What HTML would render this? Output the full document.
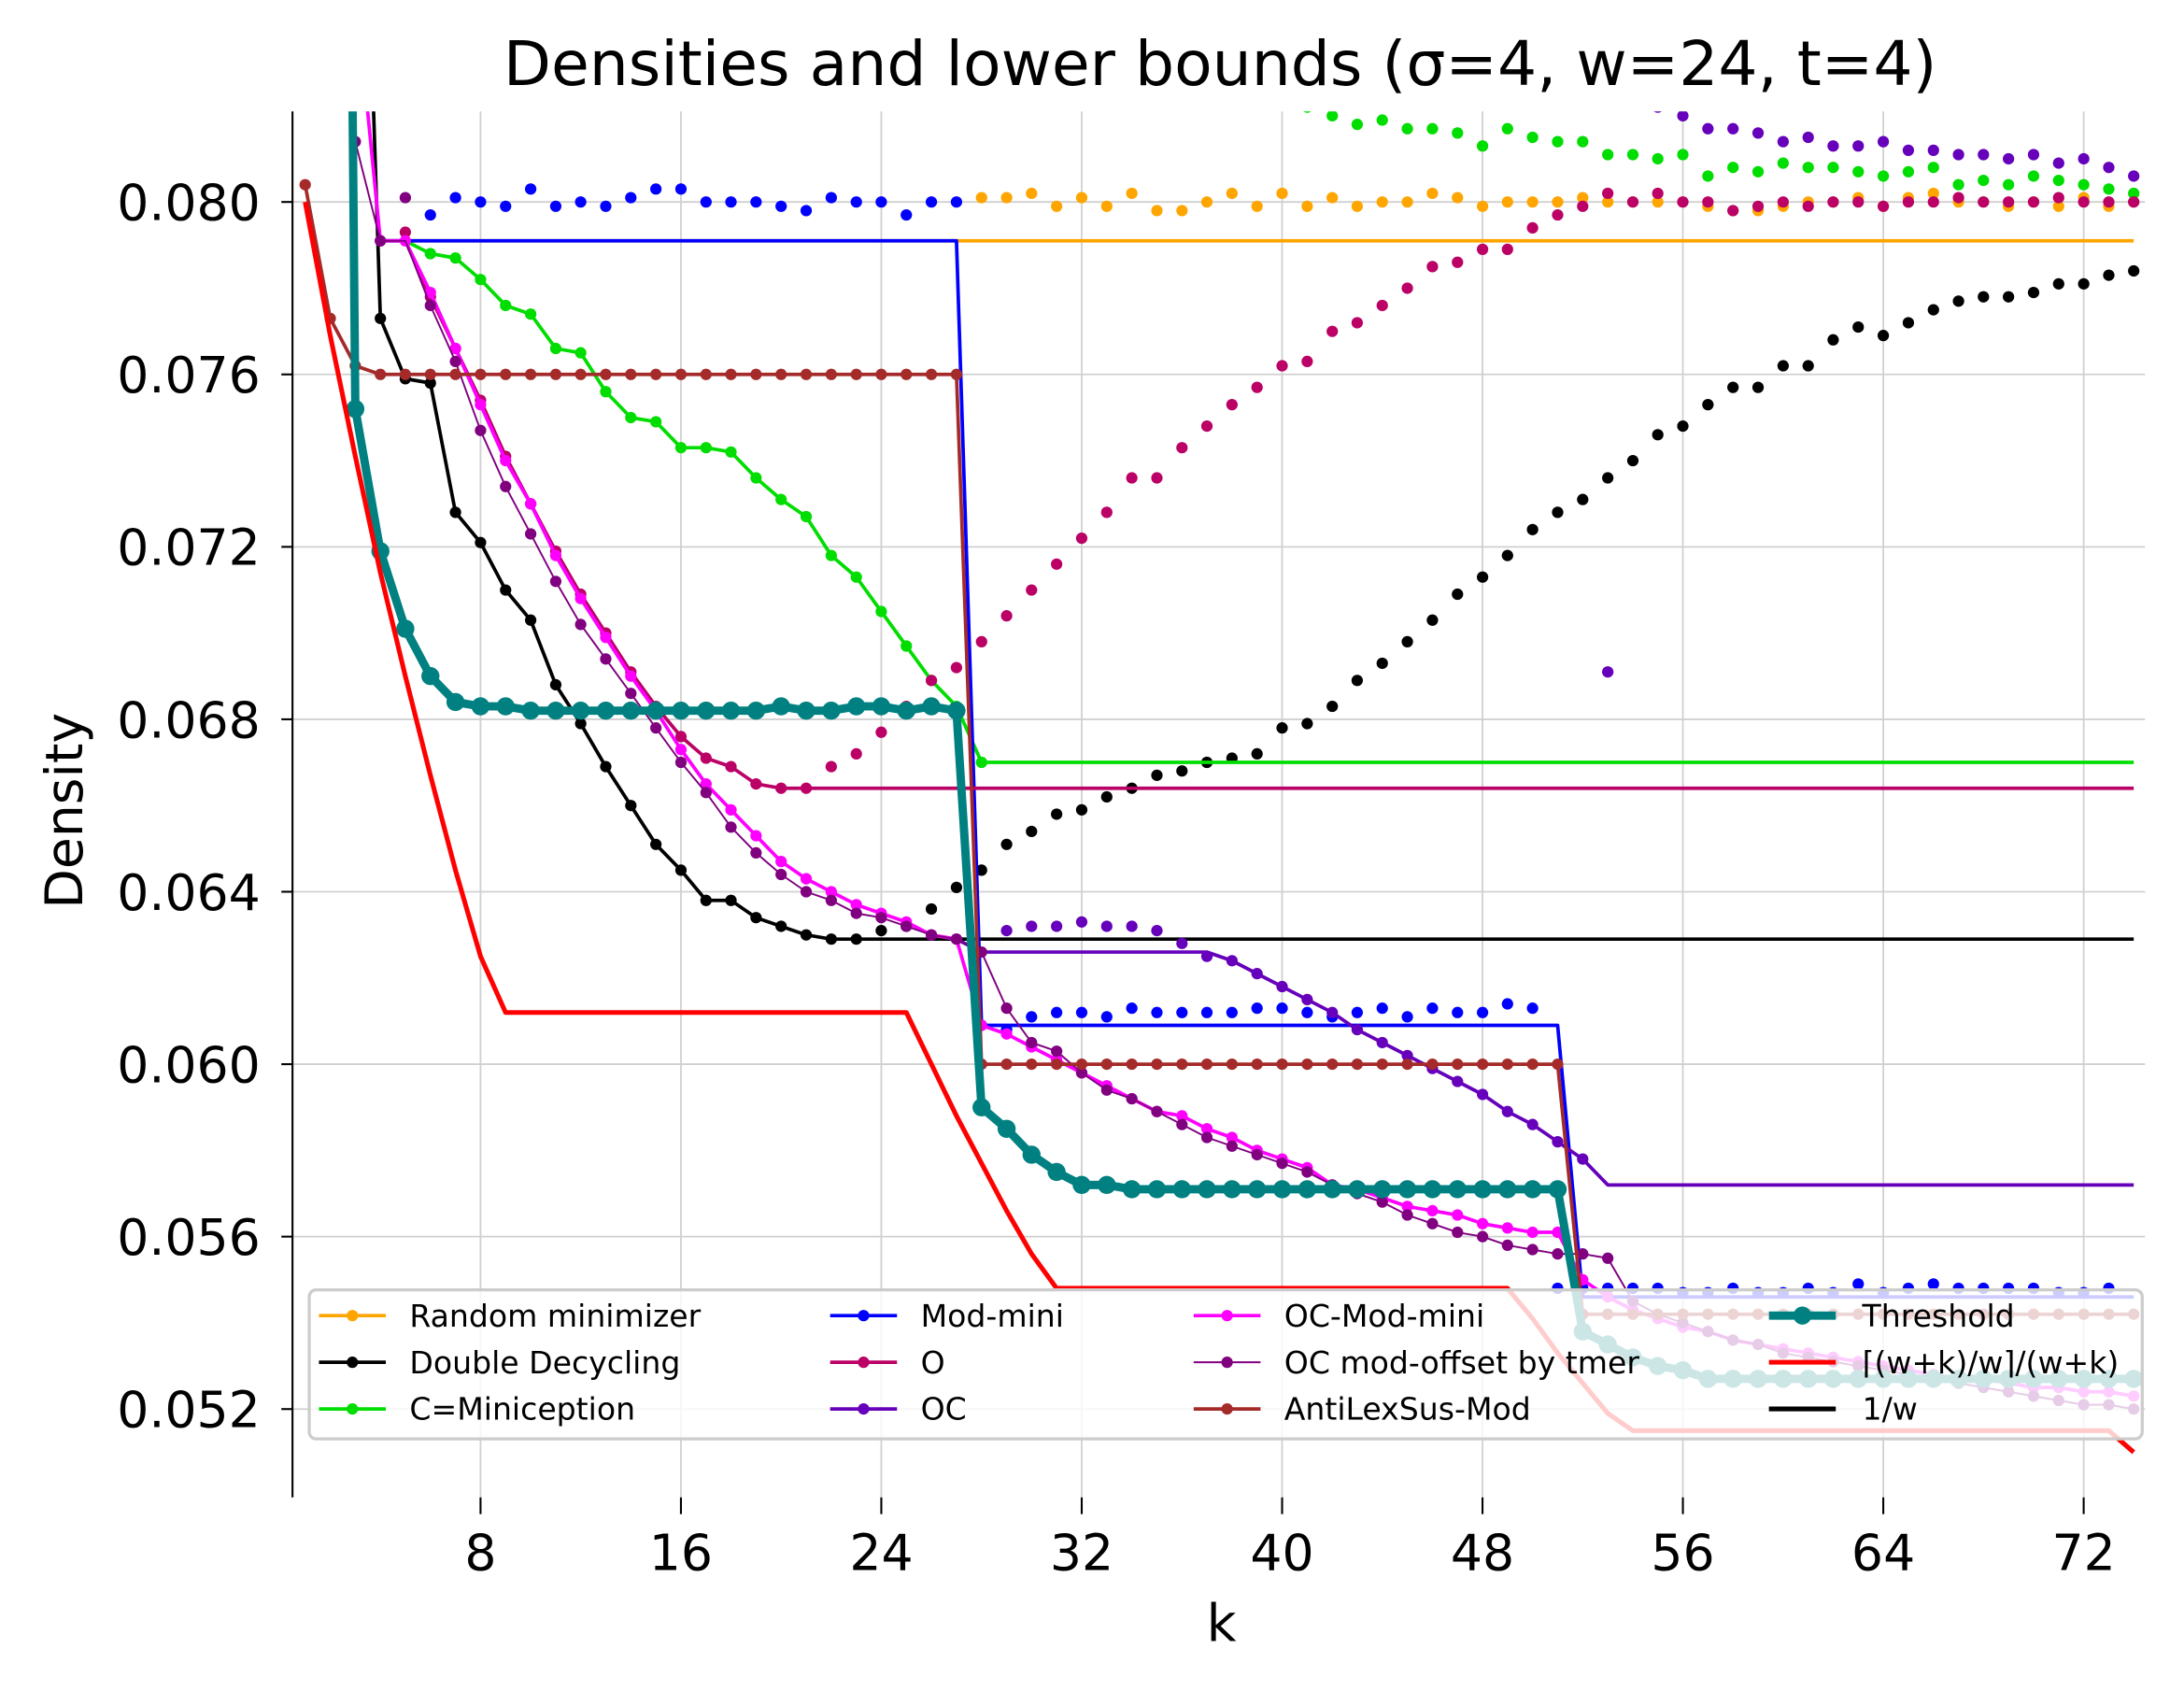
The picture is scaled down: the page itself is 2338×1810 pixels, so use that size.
<!DOCTYPE html>
<html><head><meta charset="utf-8"><style>
html,body{margin:0;padding:0;background:#fff;}
svg{display:block;}
text{font-family:"DejaVu Sans","Liberation Sans",sans-serif;}
</style></head><body>
<svg id="chart" width="2338" height="1810" viewBox="0 0 1568 1214" preserveAspectRatio="none" xmlns="http://www.w3.org/2000/svg">
<defs><clipPath id="plotclip"><rect x="210" y="80" width="1330" height="995"/></clipPath></defs>
<rect x="0" y="0" width="1568" height="1214" fill="#fff"/>
<g id="grid"></g>
<g id="series" clip-path="url(#plotclip)"></g>
<g id="legend"></g>
<g id="axes"></g>
<text x="876" y="61" font-size="44.5" text-anchor="middle">Densities and lower bounds (σ=4, w=24, t=4)</text>
<text x="877" y="1178" font-size="37" text-anchor="middle">k</text>
<text x="0" y="0" font-size="37" text-anchor="middle" transform="translate(59,582) rotate(-90)">Density</text>
</svg>
<script>
const xTicks = [8,16,24,32,40,48,56,64,72];
const yTicks = [0.052,0.056,0.060,0.064,0.068,0.072,0.076,0.080];
const yTickLabels = ["0.052","0.056","0.060","0.064","0.068","0.072","0.076","0.080"];

const randLineK = [5,74];
const randLineV = [0.0791,0.0791];
const randDotStart = 28;
const randDots = [0.0801,0.0801,0.0802,0.0799,0.0801,0.0799,0.0802,0.0798,0.0798,0.0800,0.0802,0.0799,0.0802,0.0799,0.0801,0.0799,0.0800,0.0800,0.0802,0.0801,0.0799,0.0800,0.0800,0.0800,0.0801,0.0800,0.0800,0.0800,0.0800,0.0799,0.0798,0.0798,0.0799,0.0800,0.0800,0.0801,0.0799,0.0801,0.0802,0.0800,0.0800,0.0799,0.0800,0.0799,0.0801,0.0799,0.0800];

const ddLineK = [3,4,5,6,7,8,9,10,11,12,13,14,15,16,17,18,19,20,21,22,74];
const ddLineV = [0.095,0.0773,0.0759,0.0758,0.0728,0.0721,0.0710,0.0703,0.0688,0.0679,0.0669,0.0660,0.0651,0.0645,0.0638,0.0638,0.0634,0.0632,0.0630,0.0629,0.0629];
const ddDotStart = 4;
const ddDots = [0.0773,0.0759,0.0758,0.0728,0.0721,0.0710,0.0703,0.0688,0.0679,0.0669,0.0660,0.0651,0.0645,0.0638,0.0638,0.0634,0.0632,0.0630,0.0629,0.0629,0.0631,0.0632,0.0636,0.0641,0.0645,0.0651,0.0654,0.0658,0.0659,0.0662,0.0664,0.0667,0.0668,0.0670,0.0671,0.0672,0.0678,0.0679,0.0683,0.0689,0.0693,0.0698,0.0703,0.0709,0.0713,0.0718,0.0724,0.0728,0.0731,0.0736,0.0740,0.0746,0.0748,0.0753,0.0757,0.0757,0.0762,0.0762,0.0768,0.0771,0.0769,0.0772,0.0775,0.0777,0.0778,0.0778,0.0779,0.0781,0.0781,0.0783,0.0784];

const minicLineK = [4,5,6,7,8,9,10,11,12,13,14,15,16,17,18,19,20,21,22,23,24,25,26,27,28,74];
const minicLineV = [0.0791,0.0791,0.0788,0.0787,0.0782,0.0776,0.0774,0.0766,0.0765,0.0756,0.0750,0.0749,0.0743,0.0743,0.0742,0.0736,0.0731,0.0727,0.0718,0.0713,0.0705,0.0697,0.0689,0.0683,0.0670,0.0670];
const minicDotStart = 6;
const minicDots = [0.0788,0.0787,0.0782,0.0776,0.0774,0.0766,0.0765,0.0756,0.0750,0.0749,0.0743,0.0743,0.0742,0.0736,0.0731,0.0727,0.0718,0.0713,0.0705,0.0697,0.0689,0.0683,0.0670,0.0830,0.0835,0.0838,0.0840,0.0838,0.0836,0.0834,0.0832,0.0830,0.0828,0.0826,0.0824,0.0822,0.0820,0.0818,0.0819,0.0817,0.0817,0.0816,0.0813,0.0817,0.0815,0.0814,0.0814,0.0811,0.0811,0.0810,0.0811,0.0806,0.0808,0.0807,0.0809,0.0808,0.0808,0.0807,0.0806,0.0807,0.0808,0.0804,0.0805,0.0804,0.0806,0.0805,0.0804,0.0803,0.0802];

const modLineK = [4,27,28,51,52,74];
const modLineV = [0.0791,0.0791,0.0609,0.0609,0.0546,0.0546];
const modDotStart = 6;
const modDots = [0.0797,0.0801,0.0800,0.0799,0.0803,0.0799,0.0800,0.0799,0.0801,0.0803,0.0803,0.0800,0.0800,0.0800,0.0799,0.0798,0.0801,0.0800,0.0800,0.0797,0.0800,0.0800,0.0609,0.0608,0.0611,0.0612,0.0612,0.0611,0.0613,0.0612,0.0612,0.0612,0.0612,0.0613,0.0613,0.0612,0.0611,0.0612,0.0613,0.0611,0.0613,0.0612,0.0612,0.0614,0.0613,0.0548,0.0548,0.0548,0.0548,0.0548,0.0547,0.0547,0.0548,0.0547,0.0547,0.0548,0.0547,0.0549,0.0547,0.0548,0.0549,0.0548,0.0548,0.0548,0.0548,0.0547,0.0547,0.0548];

const oLineK = [4,5,6,7,8,9,10,11,12,13,14,15,16,17,18,19,20,21,74];
const oLineV = [0.0791,0.0791,0.0778,0.0766,0.0754,0.0741,0.0730,0.0719,0.0709,0.0700,0.0691,0.0683,0.0676,0.0671,0.0669,0.0665,0.0664,0.0664,0.0664];
const oDotStart = 5;
const oDots = [0.0793,0.0778,0.0766,0.0754,0.0741,0.0730,0.0719,0.0709,0.0700,0.0691,0.0683,0.0676,0.0671,0.0669,0.0665,0.0664,0.0664,0.0669,0.0672,0.0677,0.0683,0.0689,0.0692,0.0698,0.0704,0.0710,0.0716,0.0722,0.0728,0.0736,0.0736,0.0743,0.0748,0.0753,0.0757,0.0762,0.0763,0.0770,0.0772,0.0776,0.0780,0.0785,0.0786,0.0789,0.0789,0.0794,0.0797,0.0799,0.0802,0.0800,0.0802,0.0800,0.0800,0.0798,0.0799,0.0800,0.0799,0.0800,0.0800,0.0799,0.0800,0.0800,0.0801,0.0800,0.0800,0.0800,0.0801,0.0800,0.0800,0.0800];

const ocLineK = [27,28,37,38,39,40,41,42,43,44,45,46,47,48,49,50,51,52,53,74];
const ocLineV = [0.0629,0.0626,0.0626,0.0624,0.0621,0.0618,0.0615,0.0612,0.0608,0.0605,0.0602,0.0599,0.0596,0.0593,0.0589,0.0586,0.0582,0.0578,0.0572,0.0572];
const ocDotStart = 29;
const ocDots = [0.0631,0.0632,0.0632,0.0633,0.0632,0.0632,0.0631,0.0628,0.0625,0.0624,0.0621,0.0618,0.0615,0.0612,0.0608,0.0605,0.0602,0.0599,0.0596,0.0593,0.0589,0.0586,0.0582,0.0578,0.0691,0.0830,0.0822,0.0820,0.0817,0.0817,0.0816,0.0814,0.0815,0.0813,0.0813,0.0814,0.0812,0.0812,0.0811,0.0811,0.0810,0.0811,0.0809,0.0810,0.0808,0.0806];

const ocmStart = 3;
const ocmValues = [0.0850,0.0791,0.0791,0.0779,0.0766,0.0753,0.0740,0.0730,0.0718,0.0708,0.0699,0.0690,0.0682,0.0673,0.0665,0.0659,0.0653,0.0647,0.0643,0.0640,0.0637,0.0635,0.0633,0.0630,0.0629,0.0609,0.0607,0.0604,0.0601,0.0598,0.0595,0.0592,0.0589,0.0588,0.0585,0.0583,0.0580,0.0578,0.0576,0.0572,0.0571,0.0569,0.0567,0.0566,0.0565,0.0563,0.0562,0.0561,0.0561,0.0550,0.0546,0.0543,0.0541,0.0539,0.0538,0.0536,0.0535,0.0534,0.0533,0.0532,0.0531,0.0530,0.0529,0.0528,0.0527,0.0527,0.0526,0.0525,0.0525,0.0524,0.0524,0.0523];

const offStart = 3;
const offLine = [0.0814,0.0791,0.0791,0.0776,0.0763,0.0747,0.0734,0.0723,0.0712,0.0702,0.0694,0.0686,0.0678,0.0670,0.0663,0.0655,0.0649,0.0644,0.0640,0.0638,0.0635,0.0634,0.0632,0.0630,0.0629,0.0626,0.0613,0.0605,0.0603,0.0598,0.0594,0.0592,0.0589,0.0586,0.0583,0.0581,0.0579,0.0577,0.0575,0.0572,0.0570,0.0568,0.0565,0.0563,0.0561,0.0560,0.0558,0.0557,0.0556,0.0556,0.0555,0.0545,0.0542,0.0540,0.0538,0.0536,0.0535,0.0533,0.0532,0.0531,0.0530,0.0529,0.0528,0.0527,0.0526,0.0525,0.0524,0.0523,0.0522,0.0521,0.0521,0.0520];
const offDots = [0.0814,0.0791,0.0801,0.0776,0.0763,0.0747,0.0734,0.0723,0.0712,0.0702,0.0694,0.0686,0.0678,0.0670,0.0663,0.0655,0.0649,0.0644,0.0640,0.0638,0.0635,0.0634,0.0632,0.0630,0.0629,0.0626,0.0613,0.0605,0.0603,0.0598,0.0594,0.0592,0.0589,0.0586,0.0583,0.0581,0.0579,0.0577,0.0575,0.0572,0.0570,0.0568,0.0565,0.0563,0.0561,0.0560,0.0558,0.0557,0.0556,0.0556,0.0555,0.0545,0.0542,0.0540,0.0538,0.0536,0.0535,0.0533,0.0532,0.0531,0.0530,0.0529,0.0528,0.0527,0.0526,0.0525,0.0524,0.0523,0.0522,0.0521,0.0521,0.0520];

const alsLineK = [1,2,3,4,27,28,51,52,74];
const alsLineV = [0.0804,0.0773,0.0762,0.0760,0.0760,0.0600,0.0600,0.0542,0.0542];
const alsDotStart = 1;
const alsDots = [0.0804,0.0773,0.0762,0.0760,0.0760,0.0760,0.0760,0.0760,0.0760,0.0760,0.0760,0.0760,0.0760,0.0760,0.0760,0.0760,0.0760,0.0760,0.0760,0.0760,0.0760,0.0760,0.0760,0.0760,0.0760,0.0760,0.0760,0.0600,0.0600,0.0600,0.0600,0.0600,0.0600,0.0600,0.0600,0.0600,0.0600,0.0600,0.0600,0.0600,0.0600,0.0600,0.0600,0.0600,0.0600,0.0600,0.0600,0.0600,0.0600,0.0600,0.0600,0.0542,0.0542,0.0542,0.0542,0.0542,0.0542,0.0542,0.0542,0.0542,0.0542,0.0542,0.0542,0.0542,0.0542,0.0542,0.0542,0.0542,0.0542,0.0542,0.0542,0.0542,0.0542,0.0542];

const thrStart = 2;
const thrValues = [0.140,0.0752,0.0719,0.0701,0.0690,0.0684,0.0683,0.0683,0.0682,0.0682,0.0682,0.0682,0.0682,0.0682,0.0682,0.0682,0.0682,0.0682,0.0683,0.0682,0.0682,0.0683,0.0683,0.0682,0.0683,0.0682,0.0590,0.0585,0.0579,0.0575,0.0572,0.0572,0.0571,0.0571,0.0571,0.0571,0.0571,0.0571,0.0571,0.0571,0.0571,0.0571,0.0571,0.0571,0.0571,0.0571,0.0571,0.0571,0.0571,0.0571,0.0538,0.0535,0.0532,0.0530,0.0529,0.0527,0.0527,0.0527,0.0527,0.0527,0.0527,0.0527,0.0527,0.0527,0.0527,0.0527,0.0527,0.0527,0.0527,0.0527,0.0527,0.0527,0.0527];

const lbK = [1,2,3,4,5,6,7,8,9,25,26,27,28,29,30,31,49,50,51,52,53,54,73,74];
const lbV = [0.0800,0.0769,0.0741,0.0714,0.0690,0.0667,0.0645,0.0625,0.0612,0.0612,0.0600,0.0588,0.0577,0.0566,0.0556,0.0548,0.0548,0.0541,0.0533,0.0526,0.0519,0.0515,0.0515,0.0510];

const legendLabels = ["Random minimizer","Double Decycling","C=Miniception","Mod-mini","O","OC","OC-Mod-mini","OC mod-offset by tmer","AntiLexSus-Mod","Threshold","⌈(w+k)/w⌉/(w+k)","1/w"];
const legendColors = ["#ffa500","#000000","#00dd00","#0000ff","#bb0066","#6600bb","#ff00ff","#800080","#a52a2a","#008080","#ff0000","#000000"];

const NS = "http://www.w3.org/2000/svg";
function X(k){ return 345 + (k - 8) * 17.984; }
function Y(v){ return 145 + (0.080 - v) * 30950; }
function mk(tag, attrs, parent){
  const e = document.createElementNS(NS, tag);
  for (const a in attrs) e.setAttribute(a, attrs[a]);
  parent.appendChild(e);
  return e;
}
const grid = document.getElementById('grid');
const axes = document.getElementById('axes');
const series = document.getElementById('series');
const legend = document.getElementById('legend');

xTicks.forEach(function(t){
  const g = mk('line', {x1:X(t), x2:X(t), y1:80, y2:1075, stroke:'#d0d0d0', 'stroke-width':1.2}, grid);
  
  
  const tk = mk('line', {x1:X(t), x2:X(t), y1:1075, y2:1087, stroke:'#000', 'stroke-width':1.4}, axes);
  
  
  const tl = mk('text', {x:X(t), y:1127, 'font-size':36, 'text-anchor':'middle'}, axes);
  tl.textContent = String(t);
  
  
});
yTicks.forEach(function(t, i){
  const g = mk('line', {x1:210, x2:1540, y1:Y(t), y2:Y(t), stroke:'#d0d0d0', 'stroke-width':1.2}, grid);
  
  
  const tk = mk('line', {x1:202, x2:210, y1:Y(t), y2:Y(t), stroke:'#000', 'stroke-width':1.4}, axes);
  
  
  const tl = mk('text', {x:187, y:Y(t) + 13, 'font-size':36, 'text-anchor':'end'}, axes);
  tl.textContent = yTickLabels[i];
  
  
});
const spine = mk('line', {x1:210, x2:210, y1:80, y2:1075, stroke:'#000', 'stroke-width':1.4}, axes);



function drawLine(ks, vs, color, width, name){
  const pts = ks.map(function(k, i){ return X(k).toFixed(1) + ',' + Y(vs[i]).toFixed(1); }).join(' ');
  const p = mk('polyline', {points:pts, fill:'none', stroke:color, 'stroke-width':width, 'stroke-linejoin':'round'}, series);
  
  
}
function seqK(start, n){ const a = []; for (let i = 0; i < n; i++) a.push(start + i); return a; }
function drawDots(start, vs, color, r, name){
  vs.forEach(function(v, i){
    const c = mk('circle', {cx:X(start + i).toFixed(1), cy:Y(v).toFixed(1), r:r, fill:color}, series);
    
    
  });
}

const R = 4.1;
drawLine(randLineK, randLineV, legendColors[0], 2.5, 'random-minimizer-line');
drawDots(randDotStart, randDots, legendColors[0], R, 'random-minimizer-point');
drawLine(ddLineK, ddLineV, legendColors[1], 2.5, 'double-decycling-line');
drawDots(ddDotStart, ddDots, legendColors[1], R, 'double-decycling-point');
drawLine(minicLineK, minicLineV, legendColors[2], 2.5, 'miniception-line');
drawDots(minicDotStart, minicDots, legendColors[2], R, 'miniception-point');
drawLine(modLineK, modLineV, legendColors[3], 2.5, 'mod-mini-line');
drawDots(modDotStart, modDots, legendColors[3], R, 'mod-mini-point');
drawLine(oLineK, oLineV, legendColors[4], 2.5, 'o-line');
drawDots(oDotStart, oDots, legendColors[4], R, 'o-point');
drawLine(ocLineK, ocLineV, legendColors[5], 2.5, 'oc-line');
drawDots(ocDotStart, ocDots, legendColors[5], R, 'oc-point');
drawLine(seqK(ocmStart, ocmValues.length), ocmValues, legendColors[6], 2.5, 'oc-mod-mini-line');
drawDots(ocmStart + 1, ocmValues.slice(1), legendColors[6], R, 'oc-mod-mini-point');
drawLine(seqK(offStart, offLine.length), offLine, legendColors[7], 1.3, 'oc-mod-offset-line');
drawDots(offStart, offDots, legendColors[7], R, 'oc-mod-offset-point');
drawLine(alsLineK, alsLineV, legendColors[8], 2.5, 'antilexsus-mod-line');
drawDots(alsDotStart, alsDots, legendColors[8], R, 'antilexsus-mod-point');
drawLine(seqK(thrStart, thrValues.length), thrValues, legendColors[9], 6, 'threshold-line');
drawDots(thrStart + 1, thrValues.slice(1), legendColors[9], 6.5, 'threshold-point');
drawLine(lbK, lbV, legendColors[10], 3.4, 'lower-bound-line');

// legend
const box = mk('rect', {x:222, y:926, width:1316, height:107, rx:5, fill:'#fff', 'fill-opacity':0.8, stroke:'#cccccc', 'stroke-width':2.2}, legend);


const colHandleX = [229, 596, 857, 1270];
const colTextX = [294, 661, 922, 1337];
const rowY = [944.5, 978, 1011.5];
legendLabels.forEach(function(lbl, i){
  const col = Math.floor(i / 3), row = i % 3;
  const hx = colHandleX[col], y = rowY[row];
  const isThr = (i === 9), noMarker = (i >= 10);
  const ln = mk('line', {x1:hx, x2:hx + 48, y1:y, y2:y, stroke:legendColors[i], 'stroke-width': isThr ? 6 : (noMarker ? 3.4 : (i === 7 ? 1.3 : 2.5))}, legend);
  
  
  if (!noMarker) {
    const c = mk('circle', {cx:hx + 24, cy:y, r: isThr ? 6.5 : R, fill:legendColors[i]}, legend);
    
    
  }
  const t = mk('text', {x:colTextX[col], y:y + 7.8, 'font-size':22.2}, legend);
  t.textContent = lbl;
  
  
});
</script>
</body></html>
